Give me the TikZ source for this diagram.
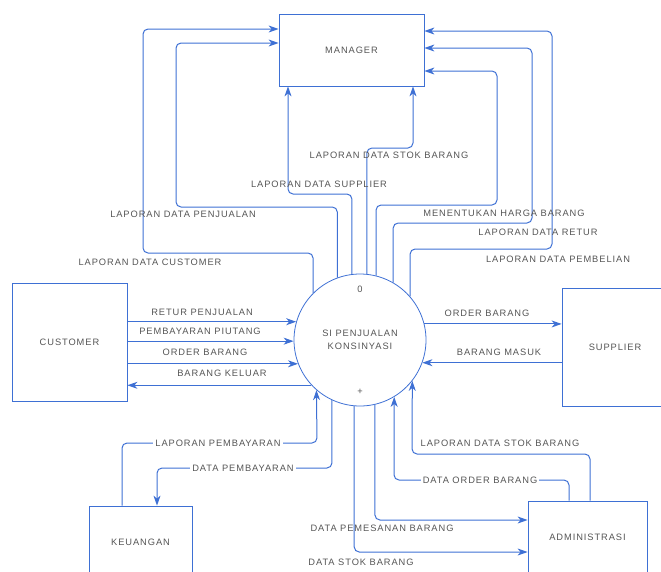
\documentclass[tikz,border=0pt]{standalone}
\usepackage{fontspec}
\newfontfamily\dfdfont{Liberation Sans}[LetterSpace=10]
\usetikzlibrary{arrows.meta}
\definecolor{flowblue}{RGB}{62,112,212}
\definecolor{labelgray}{RGB}{85,85,85}

\begin{document}
\begin{tikzpicture}[x=1pt,y=-1pt,
        lbl/.style={text=labelgray,font=\dfdfont\fontsize{9.3}{11}\selectfont,inner sep=2pt},
        entity/.style={lbl,draw=flowblue,line width=0.8pt,fill=white},
        process/.style={lbl,circle,draw=flowblue,line width=0.8pt,minimum size=132pt,inner sep=0pt,align=center},
        arr/.style={draw=flowblue,line width=1pt,rounded corners=5pt,-{Stealth[length=10pt,width=7pt,inset=3pt]}}]
    \useasboundingbox (0,0) rectangle (661,571);

    \node[entity,minimum width=145pt,minimum height=72pt] (manager) at (351.5,50) {MANAGER};
    \node[entity,minimum width=115pt,minimum height=118pt] (customer) at (69.5,342) {CUSTOMER};
    \node[entity,minimum width=106pt,minimum height=118pt] (supplier) at (615,347) {SUPPLIER};
    \node[entity,minimum width=103pt,minimum height=72pt] (keuangan) at (140.5,542) {KEUANGAN};
    \node[entity,minimum width=119pt,minimum height=72pt] (admin) at (587.5,537) {ADMINISTRASI};
    \node[process] (proc) at (360,340) {SI PENJUALAN\\[2pt]KONSINYASI};
    \node[lbl] (procno) at (360,289) {0};
    \node[lbl] (procmark) at (360,392) {+};

    \draw[arr] (proc.135) |- (143,253) |- (manager.west |- 0,29);
    \draw[arr] (proc.110) |- (176,207) |- (manager.west |- 0,43);
    \draw[arr] (proc.97) |- (288,194) -- (manager.south -| 288,0);
    \draw[arr] (proc.84) |- (413,148) -- (manager.south -| 413,0);
    \draw[arr] (proc.76) |- (497,205) |- (manager.east |- 0,71);
    \draw[arr] (proc.60) |- (532,223) |- (manager.east |- 0,48);
    \draw[arr] (proc.41) |- (552,249) |- (manager.east |- 0,31);

    \draw[arr] (customer.east |- proc.164) -- (proc.164);
    \draw[arr] (customer.east |- proc.181) -- (proc.181);
    \draw[arr] (customer.east |- proc.201) -- (proc.201);
    \draw[arr] (proc.223) -- (customer.east |- proc.223);

    \draw[arr] (proc.14) -- (supplier.west |- proc.14);
    \draw[arr] (supplier.west |- proc.340) -- (proc.340);

    \draw[arr] (keuangan.north -| 122,0) |- (317,443) -- (proc.229);
    \draw[arr] (proc.245) |- (157,468) -- (keuangan.north -| 157,0);
    \draw[arr] (proc.265) |- (admin.west |- 0,552);
    \draw[arr] (proc.283) |- (admin.west |- 0,520);
    \draw[arr] (admin.north -| 569,0) |- (394,480) -- (proc.301);
    \draw[arr] (admin.north -| 590,0) |- (412,454) -- (proc.322);

    \node[lbl] (lcustomer) at (150,262) {LAPORAN DATA CUSTOMER};
    \node[lbl] (lpenjualan) at (183,214) {LAPORAN DATA PENJUALAN};
    \node[lbl] (lsupplier) at (319,184) {LAPORAN DATA SUPPLIER};
    \node[lbl] (lstokup) at (389,155) {LAPORAN DATA STOK BARANG};
    \node[lbl] (lharga) at (504,213) {MENENTUKAN HARGA BARANG};
    \node[lbl] (lretur) at (538,232) {LAPORAN DATA RETUR};
    \node[lbl] (lpembelian) at (558,259) {LAPORAN DATA PEMBELIAN};

    \node[lbl] (lreturjual) at (202,312) {RETUR PENJUALAN};
    \node[lbl] (lpiutang) at (200,331) {PEMBAYARAN PIUTANG};
    \node[lbl] (lordercust) at (205,352) {ORDER BARANG};
    \node[lbl] (lkeluar) at (222,373) {BARANG KELUAR};
    \node[lbl] (lordersupp) at (487,313) {ORDER BARANG};
    \node[lbl] (lmasuk) at (499,352) {BARANG MASUK};

    \node[lbl,fill=white] (llappay) at (218,443) {LAPORAN PEMBAYARAN};
    \node[lbl,fill=white] (ldatapay) at (243,468) {DATA PEMBAYARAN};
    \node[lbl] (lpesan) at (382,528) {DATA PEMESANAN BARANG};
    \node[lbl] (lstokdown) at (361,562) {DATA STOK BARANG};
    \node[lbl,fill=white] (lorderadm) at (480,480) {DATA ORDER BARANG};
    \node[lbl] (lstokadm) at (500,443) {LAPORAN DATA STOK BARANG};
\end{tikzpicture}
\end{document}
